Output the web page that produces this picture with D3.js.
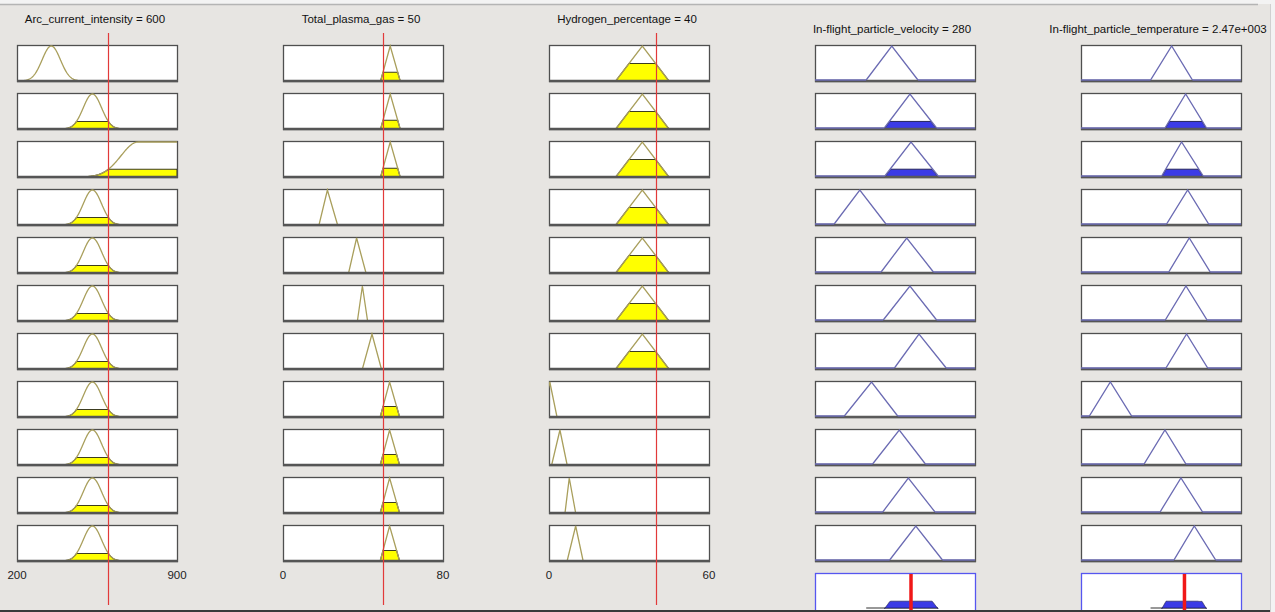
<!DOCTYPE html>
<html>
<head>
<meta charset="utf-8">
<script src="https://cdn.jsdelivr.net/npm/d3@7"></script>
<style>
  body { margin: 0; background: #f3f3f3; overflow: hidden; }
  svg { display: block; font-family: "Liberation Sans", Arial, sans-serif; }
</style>
</head>
<body>
<svg id="viewer" width="1275" height="612"></svg>
<script>
const inputNames = ["Arc_current_intensity", "Total_plasma_gas", "Hydrogen_percentage"];
const inputValues = [600, 50, 40];
const inputRanges = [[200, 900], [0, 80], [0, 60]];
const inputTickLabels = [["200", "900"], ["0", "80"], ["0", "60"]];

const outputNames = ["In-flight_particle_velocity", "In-flight_particle_temperature"];
const outputValues = [280, 2470];
const outputLabels = ["280", "2.47e+003"];
const outputRanges = [[100, 400], [1500, 3000]];

// membership function of each rule, [type, params] (gauss: [sigma, c], tri: [a, b, c])
const arcMFs = [
  ["gauss", [40, 350]], ["gauss", [40, 530]], ["gaussL", [75, 730]], ["gauss", [40, 530]],
  ["gauss", [40, 530]], ["gauss", [40, 530]], ["gauss", [40, 530]], ["gauss", [40, 530]],
  ["gauss", [40, 530]], ["gauss", [40, 530]], ["gauss", [40, 530]]
];
const gasMFs = [
  ["tri", [48.8, 53.6, 58.6]], ["tri", [48.8, 53.6, 58.6]], ["tri", [48.8, 53.6, 58.6]],
  ["tri", [18, 22.2, 27.3]], ["tri", [32.8, 36.8, 41.5]], ["tri", [37.2, 39.7, 42.3]],
  ["tri", [39.7, 44.5, 49.2]], ["tri", [48.6, 53.3, 58.3]], ["tri", [48.6, 53.3, 58.3]],
  ["tri", [48.6, 53.3, 58.3]], ["tri", [48.6, 53.3, 58.3]]
];
const hydMFs = [
  ["tri", [25, 35, 45]], ["tri", [25, 35, 45]], ["tri", [25, 35, 45]], ["tri", [25, 35, 45]],
  ["tri", [25, 35, 45]], ["tri", [25, 35, 45]], ["tri", [25, 35, 45]],
  ["tri", [-2.5, 0.3, 3]], ["tri", [1, 4.1, 6.8]], ["tri", [6, 7.6, 10]], ["tri", [6.8, 10, 12.8]]
];
const velMFs = [
  ["tri", [196, 244, 293]], ["tri", [230, 278, 328]], ["tri", [231, 280, 331]],
  ["tri", [136, 184, 233]], ["tri", [224, 272, 322]], ["tri", [228, 278, 328]],
  ["tri", [249, 295, 346]], ["tri", [155, 206, 255]], ["tri", [208, 258, 307]],
  ["tri", [227, 275, 325]], ["tri", [240, 289, 339]]
];
const tempMFs = [
  ["tri", [2152, 2350, 2545]], ["tri", [2287, 2481, 2677]], ["tri", [2256, 2443, 2646]],
  ["tri", [2302, 2500, 2697]], ["tri", [2322, 2515, 2712]], ["tri", [2290, 2484, 2682]],
  ["tri", [2296, 2490, 2688]], ["tri", [1578, 1775, 1975]], ["tri", [2091, 2287, 2484]],
  ["tri", [2241, 2437, 2640]], ["tri", [2371, 2562, 2763]]
];

const inputMFs = [arcMFs, gasMFs, hydMFs];
const outputMFs = [velMFs, tempMFs];

// ---- layout ----
const svg = d3.select("#viewer");
const boxW = 160, boxH = 36;
const colX = d3.scaleLinear().domain([0, 1]).range([17, 283]);
const rowTop = d3.scaleLinear().domain([0, 1]).range([45, 93]);
const nRules = arcMFs.length;

const curveCol = "#a99f5c";
const lineBlue = "#6b6bb3";
const fontSize = "11.5px";

function mu(spec, x) {
  const [type, p] = spec;
  if (type === "gauss") return Math.exp(-((x - p[1]) ** 2) / (2 * p[0] * p[0]));
  if (type === "gaussL") return x >= p[1] ? 1 : Math.exp(-((x - p[1]) ** 2) / (2 * p[0] * p[0]));
  const [a, b, c] = p;
  if (x <= a || x >= c) return 0;
  return x < b ? (x - a) / (b - a) : (c - x) / (c - b);
}

// points of the curve, optionally cut at a level
function curvePoints(spec, range, level) {
  const lv = level === undefined ? 1 : level;
  if (spec[0] === "tri") {
    const [a, b, c] = spec[1];
    return [[range[0] - 10, 0], [a, 0], [a + lv * (b - a), lv], [c - lv * (c - b), lv], [c, 0], [range[1] + 10, 0]];
  }
  const step = (range[1] - range[0]) / 400;
  return d3.range(range[0], range[1] + step / 2, step).map(x => [x, Math.min(lv, mu(spec, x))]);
}

// firing strength of each rule (min of the input grades)
const grades = inputMFs.map((mfs, c) => mfs.map(spec => mu(spec, inputValues[c])));
const firing = d3.range(nRules).map(r => d3.min(grades, g => g[r]));

// ---- background panel ----
svg.append("rect").attr("x", 0).attr("y", 4).attr("width", 1270).attr("height", 608).attr("fill", "#e7e5e2");
svg.append("line").attr("x1", 0).attr("x2", 1258).attr("y1", 4.5).attr("y2", 4.5)
   .attr("stroke", "#b4b4b4").attr("stroke-width", 1.5);
svg.append("line").attr("x1", 1270.5).attr("x2", 1270.5).attr("y1", 4).attr("y2", 612)
   .attr("stroke", "#d0d0d0");

const defs = svg.append("defs");

function drawBox(g, id, x0, y0) {
  defs.append("clipPath").attr("id", id)
    .append("rect").attr("x", x0).attr("y", y0 - 1).attr("width", boxW).attr("height", boxH + 1);
  g.append("rect")
    .attr("x", x0 + 0.5).attr("y", y0 + 0.5).attr("width", boxW).attr("height", boxH)
    .attr("fill", "#fff").attr("stroke", "#4f4f4f").attr("stroke-width", 1.3);
  return g.append("g").attr("clip-path", `url(#${id})`);
}

// ---- input columns ----
inputNames.forEach((name, c) => {
  const x0 = colX(c);
  const range = inputRanges[c];
  const x = d3.scaleLinear().domain(range).range([x0, x0 + boxW]);
  const col = svg.append("g").attr("class", "input-col");

  col.append("text")
    .attr("x", x0 + boxW / 2 - 2).attr("y", 23)
    .attr("text-anchor", "middle").attr("font-size", fontSize).attr("fill", "#111")
    .text(`${name} = ${inputValues[c]}`);

  inputMFs[c].forEach((spec, r) => {
    const y0 = rowTop(r);
    const y = d3.scaleLinear().domain([0, 1]).range([y0 + boxH, y0 + 1]);
    const g = col.append("g");
    const inner = drawBox(g, `in-${c}-${r}`, x0, y0);

    const level = grades[c][r];
    if (level > 0.005) {
      // cut curve, closed along the bottom of the box
      const cut = curvePoints(spec, range, level).filter(d => d[1] > 0.004 || spec[0] === "tri");
      const closed = [[cut[0][0], 0], ...cut, [cut[cut.length - 1][0], 0]];
      inner.append("path")
        .attr("d", d3.line().x(d => x(d[0])).y(d => y(d[1]))(closed) + "Z")
        .attr("fill", "#ffff00").attr("stroke", "#3c3c20").attr("stroke-width", 1.1);
    }
    inner.append("path")
      .attr("d", d3.line().x(d => x(d[0])).y(d => y(d[1]))(curvePoints(spec, range).filter(d => d[1] > 0.004 || spec[0] === "tri")))
      .attr("fill", "none").attr("stroke", curveCol).attr("stroke-width", 1.3);

    g.append("line")
      .attr("x1", x0).attr("x2", x0 + boxW + 1).attr("y1", y0 + boxH).attr("y2", y0 + boxH)
      .attr("stroke", "#555").attr("stroke-width", 2.6);
  });

  // range labels
  col.selectAll(".range-label")
    .data(inputTickLabels[c])
    .join("text")
      .attr("class", "range-label")
      .attr("x", (d, i) => x(range[i]))
      .attr("y", 579)
      .attr("text-anchor", "middle").attr("font-size", fontSize).attr("fill", "#222")
      .text(d => d);

  // current input value
  const xv = Math.round(x(inputValues[c])) + 0.5;
  col.append("line")
    .attr("x1", xv).attr("x2", xv).attr("y1", 33).attr("y2", 605)
    .attr("stroke", "#e23a3a").attr("stroke-width", 1.2);
});

// ---- output columns ----
outputNames.forEach((name, k) => {
  const c = k + 3;
  const x0 = colX(c);
  const range = outputRanges[k];
  const x = d3.scaleLinear().domain(range).range([x0, x0 + boxW]);
  const col = svg.append("g").attr("class", "output-col");

  col.append("text")
    .attr("x", x0 + boxW / 2 - 3).attr("y", 33)
    .attr("text-anchor", "middle").attr("font-size", fontSize).attr("fill", "#111")
    .text(`${name} = ${outputLabels[k]}`);

  outputMFs[k].forEach((spec, r) => {
    const y0 = rowTop(r);
    const y = d3.scaleLinear().domain([0, 1]).range([y0 + boxH, y0 + 1]);
    const g = col.append("g");
    const inner = drawBox(g, `out-${k}-${r}`, x0, y0);

    g.append("line")
      .attr("x1", x0).attr("x2", x0 + boxW + 1).attr("y1", y0 + boxH).attr("y2", y0 + boxH)
      .attr("stroke", "#555").attr("stroke-width", 2.6);

    if (firing[r] > 0.005) {
      inner.append("path")
        .attr("d", d3.line().x(d => x(d[0])).y(d => y(d[1]))(curvePoints(spec, range, firing[r]).slice(1, -1)))
        .attr("fill", "#3b3be6").attr("stroke", "#23235a").attr("stroke-width", 1);
    }
    // curve over the whole range, so the zero part sits on the bottom edge
    const pts = curvePoints(spec, range);
    g.append("path")
      .attr("d", d3.line().x(d => x(Math.max(range[0], Math.min(range[1], d[0])))).y(d => y(d[1]) - (d[1] === 0 ? 1 : 0))(pts))
      .attr("fill", "none").attr("stroke", lineBlue).attr("stroke-width", 1.3);
    g.selectAll(".gap")
      .data([[spec[1][0], spec[1][2]]])
      .join("line")
        .attr("x1", d => x(d[0])).attr("x2", d => x(d[1]))
        .attr("y1", y0 + boxH).attr("y2", y0 + boxH)
        .attr("stroke", "#5a5a5a").attr("stroke-width", 2.2);
  });

  // aggregated output
  const y0 = rowTop(nRules);
  const y = d3.scaleLinear().domain([0, 1]).range([y0 + boxH, y0 + 1]);
  col.append("rect")
    .attr("x", x0 + 0.5).attr("y", y0 + 0.5).attr("width", boxW).attr("height", boxH + 4)
    .attr("fill", "#fff").attr("stroke", "#5656f0").attr("stroke-width", 1.3);

  const step = (range[1] - range[0]) / 600;
  const agg = d3.range(range[0], range[1] + step / 2, step)
    .map(v => [v, d3.max(outputMFs[k], (spec, r) => Math.min(firing[r], mu(spec, v)))]);
  const active = agg.filter(d => d[1] > 0.001);
  col.append("line")
    .attr("x1", x(outputMFs[k][0][1][0])).attr("x2", x(d3.max(active, d => d[0])))
    .attr("y1", y0 + boxH - 1).attr("y2", y0 + boxH - 1)
    .attr("stroke", "#333").attr("stroke-width", 1.2);
  col.append("path")
    .datum(active)
    .attr("d", d3.area().x(d => x(d[0])).y0(y0 + boxH - 1).y1(d => y(d[1])))
    .attr("fill", "#3b3be6").attr("stroke", "#23235a").attr("stroke-width", 0.8);

  const xv = x(outputValues[k]);
  col.append("line")
    .attr("x1", xv).attr("x2", xv).attr("y1", y0 + 1).attr("y2", 612)
    .attr("stroke", "#f01818").attr("stroke-width", 3.5);
});

// bottom edge of the window
svg.append("line").attr("x1", 0).attr("x2", 1270).attr("y1", 611).attr("y2", 611)
   .attr("stroke", "#3a3a3a").attr("stroke-width", 2);
</script>
</body>
</html>
